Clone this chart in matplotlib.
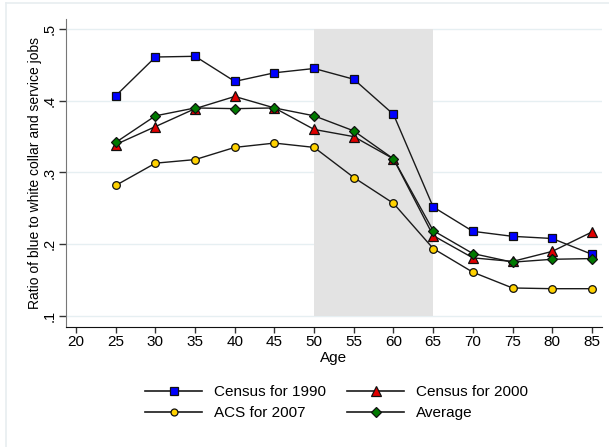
import matplotlib
matplotlib.use("Agg")
import matplotlib.pyplot as plt
from matplotlib.lines import Line2D

plt.rcParams["font.family"] = ["Liberation Sans", "DejaVu Sans"]

ages = [25, 30, 35, 40, 45, 50, 55, 60, 65, 70, 75, 80, 85]
census_1990 = [0.407, 0.461, 0.462, 0.427, 0.439, 0.445, 0.430, 0.381, 0.252, 0.218, 0.211, 0.208, 0.186]
census_2000 = [0.339, 0.364, 0.389, 0.406, 0.390, 0.360, 0.350, 0.319, 0.212, 0.181, 0.176, 0.190, 0.217]
acs_2007 = [0.282, 0.313, 0.318, 0.335, 0.341, 0.335, 0.293, 0.257, 0.194, 0.161, 0.139, 0.138, 0.138]
average = [0.342, 0.379, 0.390, 0.389, 0.390, 0.379, 0.358, 0.319, 0.219, 0.187, 0.175, 0.179, 0.180]

xticks = [20, 25, 30, 35, 40, 45, 50, 55, 60, 65, 70, 75, 80, 85]
yticks = [0.1, 0.2, 0.3, 0.4, 0.5]
ytick_labels = [".1", ".2", ".3", ".4", ".5"]

fig = plt.figure(figsize=(6.09, 4.47), dpi=100)
# faint outer frame (only top and left edges show in the original)
fig.add_artist(Line2D([0.010, 1.0], [0.993, 0.993], transform=fig.transFigure, color="#e8edf0", lw=1.2))
fig.add_artist(Line2D([0.010, 0.010], [0.0, 0.993], transform=fig.transFigure, color="#e8edf0", lw=1.2))

ax = fig.add_axes([0.1084, 0.2691, 0.88, 0.6884])

ylo, yhi = 0.085, 0.514
ax.axvspan(50, 65, ymin=(0.1 - ylo) / (yhi - ylo), ymax=(0.5 - ylo) / (yhi - ylo),
           color="#e3e3e3", zorder=1, linewidth=0)

for yv in yticks:
    ax.axhline(yv, color="#e6eff2", linewidth=1.0, zorder=0)

series = [
    (census_1990, "s", "#0000ff", 6, "Census for 1990"),
    (census_2000, "^", "#e00000", 7, "Census for 2000"),
    (acs_2007, "o", "#ffd200", 5.5, "ACS for 2007"),
    (average, "D", "#007a00", 5.5, "Average"),
]
handles = {}
for vals, mk, col, ms, lab in series:
    ax.plot(ages, vals, color="#1a1a1a", linewidth=1.0, marker=mk, markersize=ms,
            markerfacecolor=col, markeredgecolor="#101010", markeredgewidth=0.9, zorder=3)
    handles[lab] = Line2D([0], [0], color="#1a1a1a", linewidth=1.2, marker=mk, markersize=ms - 0.5,
                          markerfacecolor=col, markeredgecolor="#101010", markeredgewidth=0.9, label=lab)

ax.set_xlim(18.73, 86.27)
ax.set_ylim(ylo, yhi)
ax.set_xticks(xticks)
ax.set_yticks(yticks)
ax.set_yticklabels(ytick_labels, rotation=90, va="center")
ax.tick_params(axis="x", labelsize=11, direction="out", length=4, width=1, color="#333333", pad=2)
ax.tick_params(axis="y", labelsize=10.5, direction="out", length=5, width=1, color="#333333", pad=2)

for s in ["top", "right"]:
    ax.spines[s].set_visible(False)
ax.spines["left"].set_color("#777777")
ax.spines["bottom"].set_color("#111111")

ax.set_xlabel("Age", fontsize=11, labelpad=1.5)
ax.set_ylabel("Ratio of blue to white collar and service jobs", fontsize=10, labelpad=0)

# row-wise order like the original: 1990, 2000 / 2007, Average
order = ["Census for 1990", "ACS for 2007", "Census for 2000", "Average"]
fig.legend(handles=[handles[k] for k in order], ncol=2, loc="center",
           bbox_to_anchor=(0.553, 0.0995), frameon=False, fontsize=11,
           handlelength=3.7, handletextpad=0.8, columnspacing=1.4, labelspacing=0.45)

fig.savefig("out.png", dpi=100)
